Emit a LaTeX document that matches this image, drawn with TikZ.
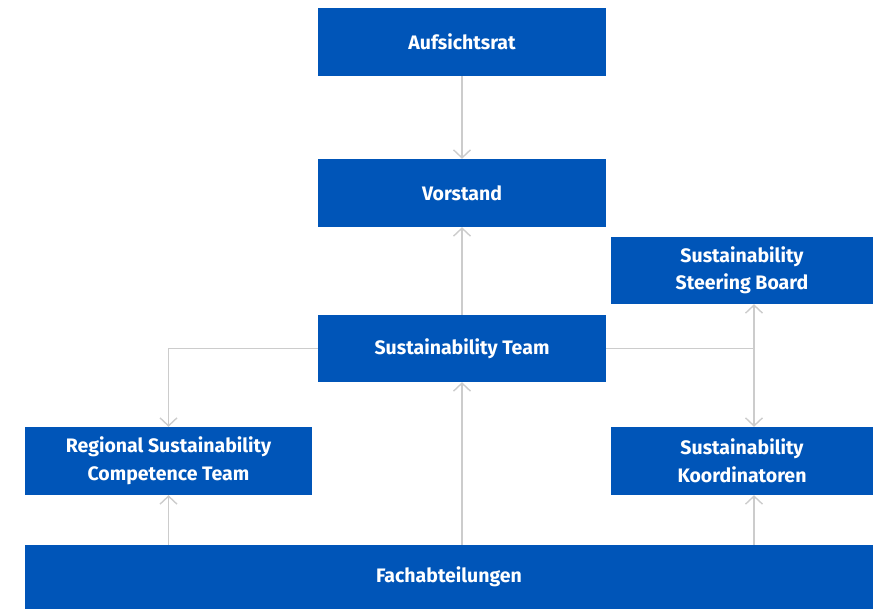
\documentclass[tikz,border=0pt]{standalone}
\usepackage{fontspec}
\setmainfont{Fira Sans}
\usetikzlibrary{arrows.meta}
\definecolor{orgblue}{RGB}{0,85,184}
\definecolor{lnkgray}{RGB}{204,204,204}

\begin{document}
\begin{tikzpicture}[
  x=1pt,y=-1pt,
  box/.style={fill=orgblue,draw=none,text=white,align=center,inner sep=0pt,
    font=\fontsize{19.5}{27.5}\selectfont\bfseries},
  arr/.style={-{Straight Barb[length=8pt,width=17pt]},draw=lnkgray,line width=1.4pt},
  arrb/.style={{Straight Barb[length=8pt,width=17pt]}-{Straight Barb[length=8pt,width=17pt]},draw=lnkgray,line width=1.4pt},
  lnk/.style={draw=lnkgray,line width=1.4pt}
]
\useasboundingbox (0,0) rectangle (873,609);
% ================= boxes =================
\node[box,minimum width=288pt,minimum height=68pt] (auf) at (462,42) {Aufsichtsrat};
\node[box,minimum width=288pt,minimum height=68pt] (vor) at (462,193) {Vorstand};
\node[box,minimum width=288pt,minimum height=67pt] (team) at (462,348.5) {Sustainability Team};
\node[box,minimum width=262pt,minimum height=67pt] (steer) at (742,270.5) {Sustainability\\Steering Board};
\node[box,minimum width=287pt,minimum height=68pt] (regio) at (168.5,461) {Regional Sustainability\\Competence Team};
\node[box,minimum width=262pt,minimum height=68pt] (koord) at (742,461) {Sustainability\\Koordinatoren};
\node[box,minimum width=848pt,minimum height=64pt] (fach) at (449,577) {Fachabteilungen};
\coordinate (j) at (754,348.5);
% ================= connectors =================
\draw[arr] (auf) -- (vor);
\draw[arr] (team) -- (vor);
\draw[arr] (team |- fach.north) -- (team.south);
\draw[arr] (team.west) -| (regio.north);
\draw[lnk] (team.east) -- (j);
\draw[arrb] (j |- steer.south) -- (j |- koord.north);
\draw[arr] (regio |- fach.north) -- (regio.south);
\draw[arr] (j |- fach.north) -- (j |- koord.south);
\end{tikzpicture}
\end{document}
